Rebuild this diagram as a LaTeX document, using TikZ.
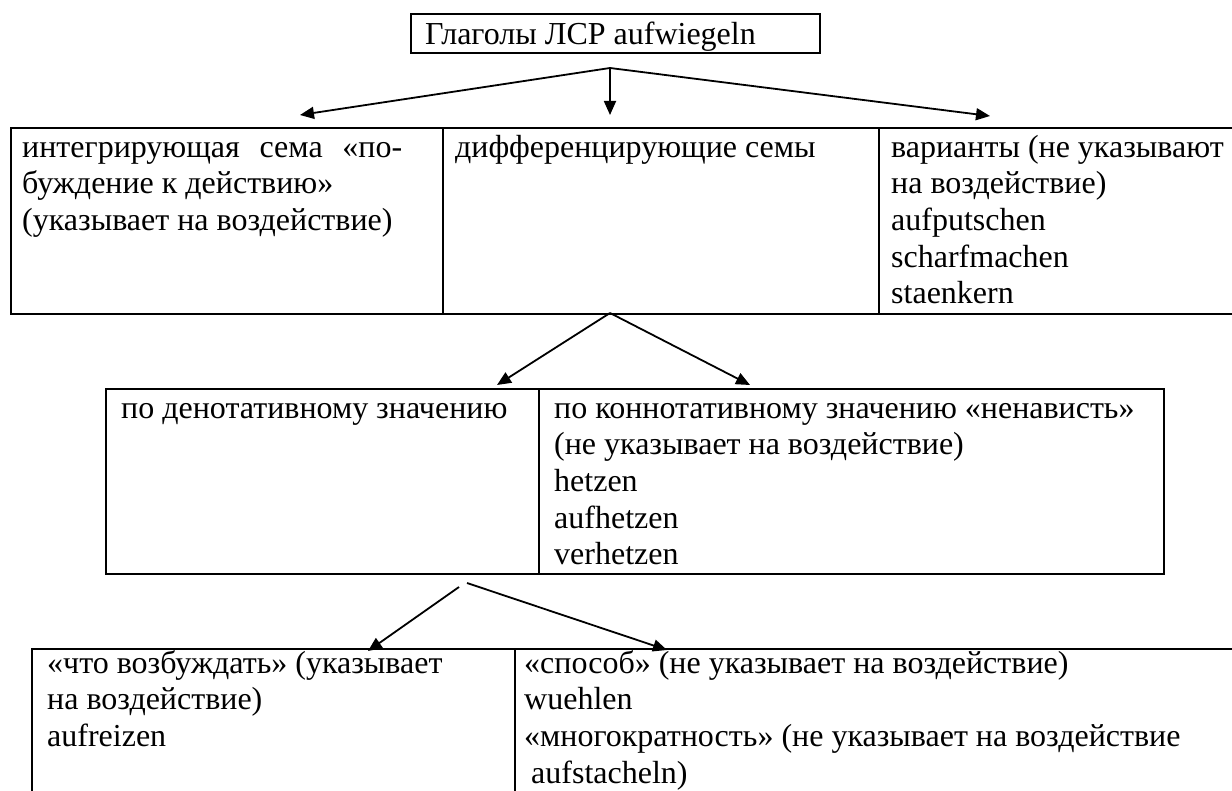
\documentclass[tikz,border=0pt]{standalone}
\usepackage{fontspec}
\setmainfont{Liberation Serif}
\usetikzlibrary{arrows.meta}
\begin{document}
\begin{tikzpicture}[x=1pt,y=-1pt,
  cell/.style={draw, line width=2.2pt, rectangle, inner sep=0pt, anchor=north west},
  txt/.style={anchor=north west, inner sep=0pt, align=left, font=\fontsize{32}{36.7}\selectfont},
  arr/.style={line width=1.8pt, -{Triangle[length=14pt,width=12pt]}}]
\useasboundingbox (0,0) rectangle (1232,791);
\clip (0,0) rectangle (1232,791);
% top box
\node[cell, minimum width=409pt, minimum height=39pt] (top) at (410,13) {};
\node[txt] (ttop) at (425,18.8) {\strut Глаголы ЛСР aufwiegeln};
% table 1
\node[cell, minimum width=432pt, minimum height=186pt] (t1a) at (10,127) {};
\node[cell, minimum width=436pt, minimum height=186pt] (t1b) at (442,127) {};
\node[cell, minimum width=380pt, minimum height=186pt] (t1c) at (878,127) {};
\node[txt] (x1a) at (22,131.3) {\strut\hbox to 380pt{интегрирующая\hfill сема\hfill «по-}\\буждение к действию»\\(указывает на воздействие)};
\node[txt] (x1b) at (455,131.3) {\strut дифференцирующие семы};
\node[txt] (x1c) at (891,131.3) {\strut варианты (не указывают\\на воздействие)\\aufputschen\\scharfmachen\\staenkern};
% table 2
\node[cell, minimum width=433pt, minimum height=185pt] (t2a) at (105,388) {};
\node[cell, minimum width=625pt, minimum height=185pt] (t2b) at (538,388) {};
\node[txt] (x2a) at (121,392.3) {\strut по денотативному значению};
\node[txt] (x2b) at (554,392.3) {\strut по коннотативному значению «ненависть»\\(не указывает на воздействие)\\hetzen\\aufhetzen\\verhetzen};
% table 3
\node[cell, minimum width=483pt, minimum height=200pt] (t3a) at (31,648) {};
\node[cell, minimum width=760pt, minimum height=200pt] (t3b) at (514,648) {};
\node[txt] (x3a) at (47,647.3) {\strut «что возбуждать» (указывает\\на воздействие)\\aufreizen};
\node[txt] (x3b) at (524,647.3) {\strut «способ» (не указывает на воздействие)\\wuehlen\\«многократность» (не указывает на воздействие\\\hspace*{7pt}aufstacheln)};
% connector points
\coordinate (ap1) at (610,68);
\coordinate (tl1) at (300,115);
\coordinate (td1) at (610,115);
\coordinate (tr1) at (990,116);
\coordinate (ap2) at (610,313);
\coordinate (tl2) at (497,385);
\coordinate (tr2) at (750,385);
\coordinate (ap3l) at (459,587);
\coordinate (ap3r) at (467,583);
\coordinate (tl3) at (368,651);
\coordinate (tr3) at (667,650);
% arrows
\draw[arr] (ap1) -- (tl1);
\draw[arr] (ap1) -- (td1);
\draw[arr] (ap1) -- (tr1);
\draw[arr] (ap2) -- (tl2);
\draw[arr] (ap2) -- (tr2);
\draw[arr] (ap3l) -- (tl3);
\draw[arr] (ap3r) -- (tr3);
\end{tikzpicture}
\end{document}
